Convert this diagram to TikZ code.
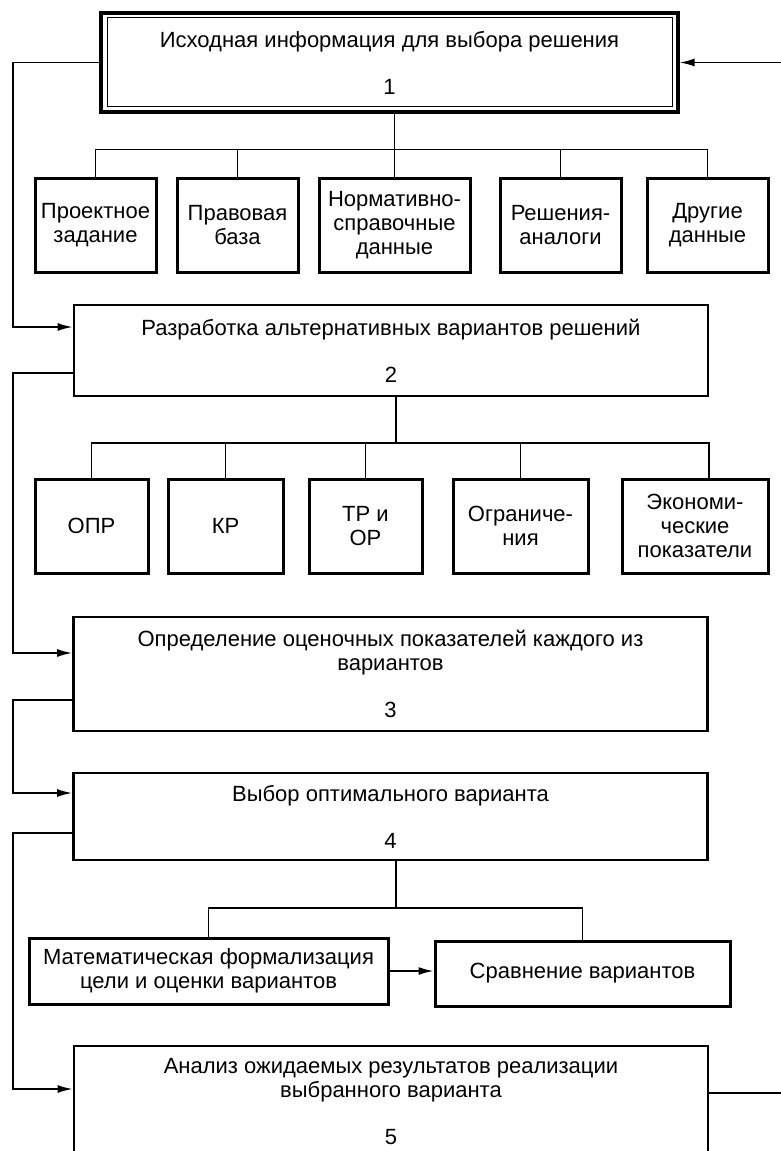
\documentclass[tikz,border=0pt]{standalone}
\usepackage{fontspec}
\setmainfont{Liberation Sans}
\usetikzlibrary{arrows.meta}

\begin{document}
\begin{tikzpicture}[x=1pt,y=-1pt,
    font=\fontsize{22}{24}\selectfont,
    stepbox/.style={draw, line width=2.8pt, align=center, inner sep=0pt,
        minimum width=634pt},
    databox/.style={draw, line width=3pt, align=center, inner sep=0pt,
        minimum height=94pt},
    link/.style={line width=1.6pt},
    feed/.style={link, -{Latex[length=15pt,width=8pt]}}]
    \useasboundingbox (0,0) rectangle (781,1151);

    % main steps
    \node[stepbox, line width=3.2pt, minimum width=577pt, minimum height=99pt] (s1) at (389.5,62.5)
        {Исходная информация для выбора решения\\[23pt]1};
    \draw[line width=1.6pt] ([shift={(8pt,-6pt)}]s1.north west) rectangle ([shift={(-7pt,7pt)}]s1.south east);
    \node[stepbox, minimum height=91pt] (s2) at (391,350.5)
        {Разработка альтернативных вариантов решений\\[23pt]2};
    \node[stepbox, minimum height=114pt] (s3) at (390.5,674)
        {Определение оценочных показателей каждого из\\вариантов\\[23pt]3};
    \node[stepbox, minimum height=87pt] (s4) at (390.5,816.5)
        {Выбор оптимального варианта\\[23pt]4};
    \node[stepbox, minimum height=112pt] (s5) at (391,1102)
        {Анализ ожидаемых результатов реализации\\выбранного варианта\\[23pt]5};

    % input data
    \node[databox, minimum width=121pt] (d1) at (95.5,225) {Проектное\\задание};
    \node[databox, minimum width=121pt] (d2) at (237.5,225) {Правовая\\база};
    \node[databox, minimum width=151pt] (d3) at (394.5,225) {Нормативно-\\справочные\\данные};
    \node[databox, minimum width=121pt] (d4) at (560.5,225) {Решения-\\аналоги};
    \node[databox, minimum width=121pt] (d5) at (707.5,225) {Другие\\данные};

    % alternatives
    \node[databox, minimum width=113pt] (e1) at (91.5,526) {ОПР};
    \node[databox, minimum width=115pt] (e2) at (225.5,526) {КР};
    \node[databox, minimum width=113pt] (e3) at (365.5,526) {ТР и\\ОР};
    \node[databox, minimum width=135pt] (e4) at (520.5,526) {Ограниче-\\ния};
    \node[databox, minimum width=146pt] (e5) at (695,526) {Экономи-\\ческие\\показатели};

    % choice
    \node[databox, minimum width=359pt, minimum height=66pt] (f1) at (208.5,971)
        {Математическая формализация\\цели и оценки вариантов};
    \node[databox, minimum width=295pt, minimum height=65pt] (f2) at (582.5,973.5)
        {Сравнение вариантов};

    \coordinate (bus1) at (396,149.5);
    \coordinate (bus2) at (396,443);
    \coordinate (bus2r) at (709,443);
    \coordinate (bus3) at (396,908);
    \coordinate (back) at (13,0);
    \coordinate (ret) at (781.8,0);

    % brackets
    \draw[link] (s1.south -| d3.north) -- (d3.north);
    \draw[link] (d1.north) |- (bus1) -| (d5.north);
    \foreach \n in {d2,d4} \draw[link] (\n.north) -- (\n.north |- bus1);

    \draw[link] (s2.south -| bus2) -- (bus2);
    \draw[link] (e1.north) |- (bus2r) -- (bus2r |- e5.north);
    \foreach \n in {e2,e3,e4} \draw[link] (\n.north) -- (\n.north |- bus2);

    \draw[link] (s4.south -| bus3) -- (bus3);
    \draw[link] (f1.north) |- (bus3) -| (f2.north);
    \draw[feed] (f1.east) -- (f1.east -| f2.west);

    % feedback on the left
    \foreach \a/\b/\da/\db in {s1/s2/0/23.5, s2/s3/-22.5/21, s3/s4/-26/23.5, s4/s5/-16.5/13} {
        \coordinate (out) at ([yshift=\da pt]\a.west);
        \coordinate (in) at ([yshift=\db pt]\b.west);
        \draw[feed] (out) -- (out -| back) |- (in);
    }

    % return to the start
    \coordinate (o5) at ([yshift=9pt]s5.east);
    \draw[feed] (o5) -- (o5 -| ret) |- (s1.east);
\end{tikzpicture}
\end{document}
